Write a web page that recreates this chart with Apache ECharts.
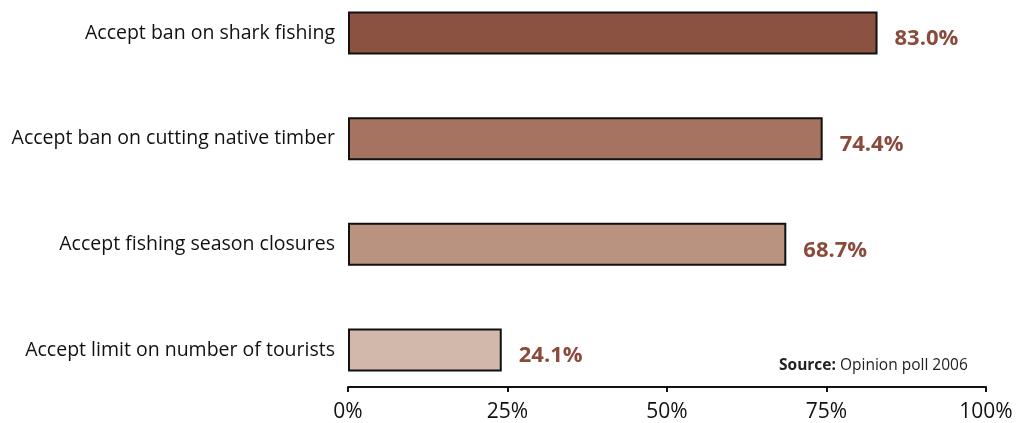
<!DOCTYPE html>
<html>
<head>
<meta charset="utf-8">
<script src="https://cdn.jsdelivr.net/npm/echarts@6/dist/echarts.min.js"></script>
<style>
  html, body { margin: 0; padding: 0; background: #fff; }
  #chart { width: 1023px; height: 423px; }
</style>
</head>
<body>
<div id="chart"></div>
<script>
// Survey responses: share of respondents accepting each measure
const categories = [
  'Accept ban on shark fishing',
  'Accept ban on cutting native timber',
  'Accept fishing season closures',
  'Accept limit on number of tourists'
];
const values = [83.0, 74.4, 68.7, 24.1];
const barColors = ['#8b5241', '#a5735f', '#b9937f', '#d2b8ab'];
const tickValues = [0, 25, 50, 75, 100];

const FONT = '"Open Sans", "Noto Sans", sans-serif';

const chart = echarts.init(document.getElementById('chart'), null, { renderer: 'canvas' });

chart.setOption({
  animation: false,
  backgroundColor: '#ffffff',
  // category centres sit on the grid's top and bottom edges (boundaryGap off)
  grid: { left: 348, right: 37, top: 33, bottom: 72, containLabel: false },
  xAxis: {
    type: 'value',
    min: 0,
    max: 100,
    interval: 25,
    offset: 37,
    axisLine: { show: true, lineStyle: { color: '#111', width: 2 } },
    axisTick: { show: true, length: 5, lineStyle: { color: '#111', width: 2 } },
    splitLine: { show: false },
    axisLabel: {
      margin: 15,
      fontFamily: FONT,
      fontSize: 21,
      color: '#111',
      formatter: v => tickValues.includes(v) ? v + '%' : ''
    }
  },
  yAxis: {
    type: 'category',
    inverse: true,
    boundaryGap: false,
    data: categories,
    axisLine: { show: false },
    axisTick: { show: false },
    axisLabel: {
      margin: 13,
      fontFamily: FONT,
      fontSize: 19.5,
      color: '#111'
    }
  },
  series: [{
    type: 'bar',
    barWidth: 43,
    data: values.map((v, i) => ({
      value: v,
      itemStyle: { color: barColors[i], borderColor: '#111', borderWidth: 2 }
    })),
    label: {
      show: true,
      position: 'right',
      distance: 17,
      offset: [0, 6],
      fontFamily: FONT,
      fontWeight: 'bold',
      fontSize: 22,
      color: '#8b4a3c',
      formatter: p => p.value.toFixed(1) + '%'
    }
  }],
  graphic: [{
    type: 'text',
    left: 779,
    top: 358,
    style: {
      text: '{b|Source:} Opinion poll 2006',
      rich: {
        b: { fontFamily: FONT, fontWeight: 'bold', fontSize: 15.5, fill: '#222' }
      },
      fontFamily: FONT,
      fontSize: 15.5,
      fill: '#222'
    }
  }]
});
</script>
</body>
</html>
